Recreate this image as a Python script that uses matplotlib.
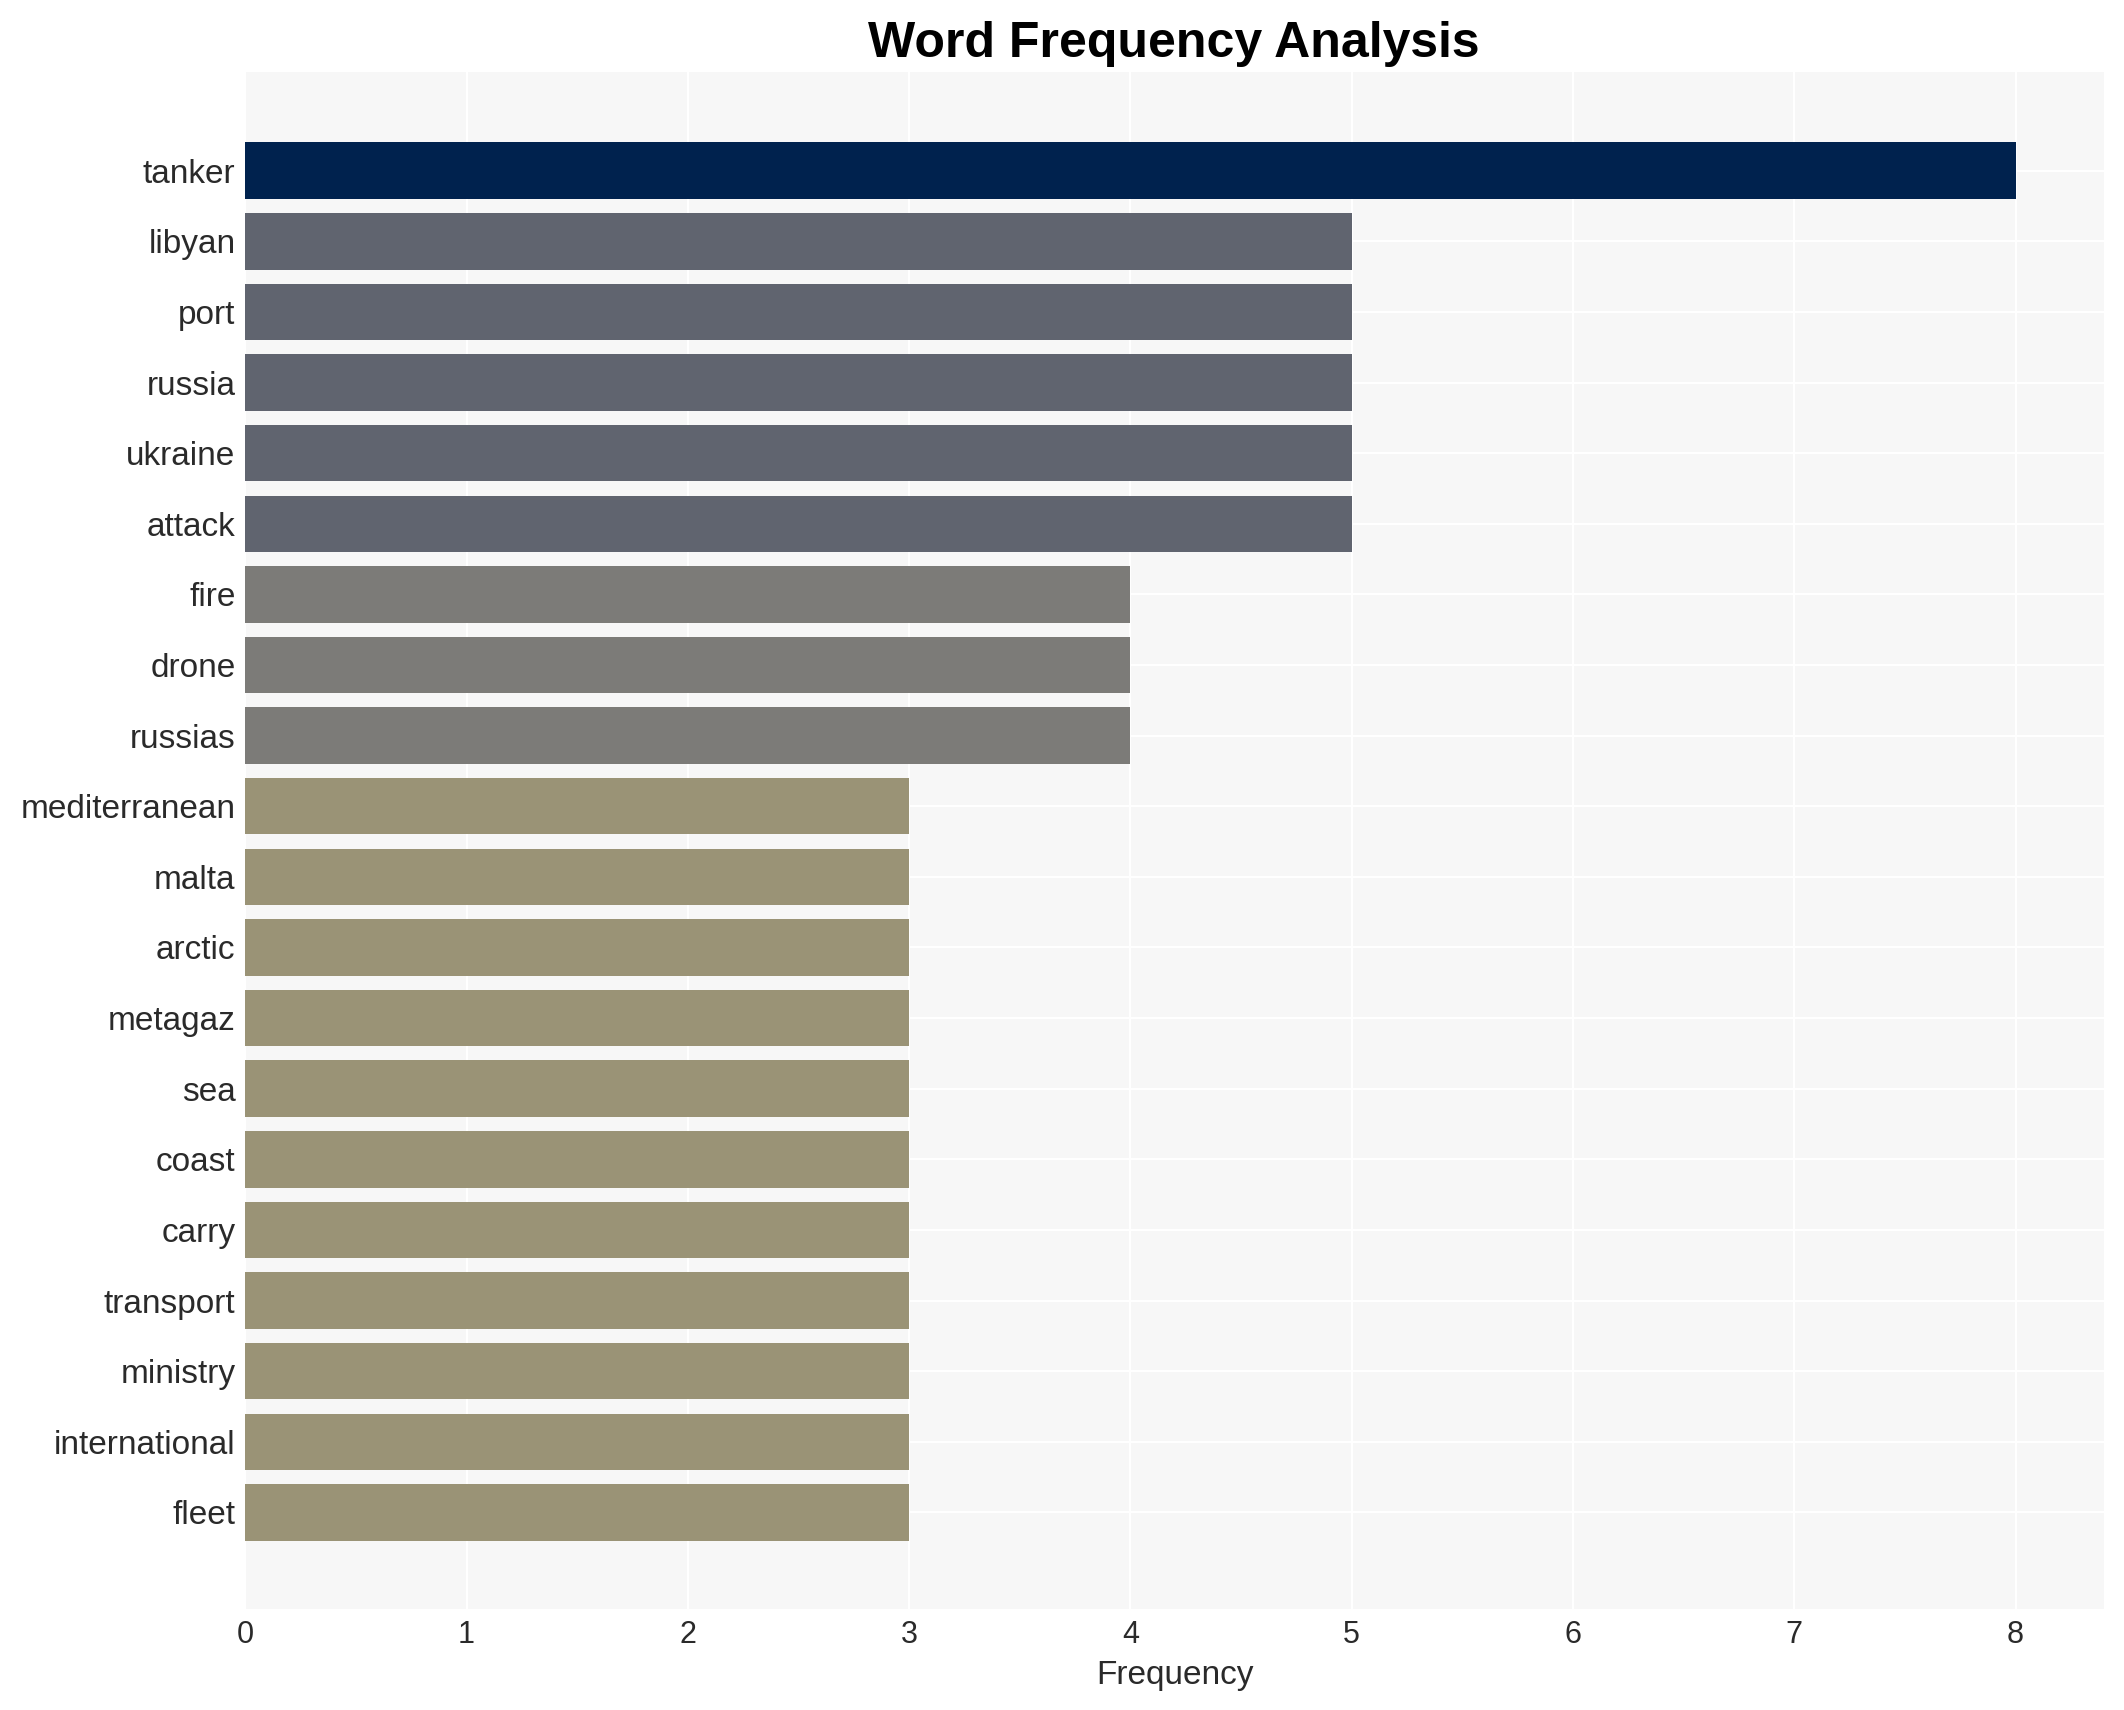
import matplotlib
matplotlib.use('Agg')
import matplotlib.pyplot as plt
import numpy as np

words = ['tanker', 'libyan', 'port', 'russia', 'ukraine', 'attack', 'fire', 'drone',
         'russias', 'mediterranean', 'malta', 'arctic', 'metagaz', 'sea', 'coast',
         'carry', 'transport', 'ministry', 'international', 'fleet']
counts = [8, 5, 5, 5, 5, 5, 4, 4, 4, 3, 3, 3, 3, 3, 3, 3, 3, 3, 3, 3]
x_ticks = [0, 1, 2, 3, 4, 5, 6, 7, 8]

plt.rcParams['font.family'] = ['Liberation Sans', 'DejaVu Sans']

fig = plt.figure(figsize=(21.24, 17.10), dpi=100)
ax = fig.add_axes([0.1155, 0.059, 0.8751, 0.899])
ax.set_facecolor('#f7f7f7')

cmap = plt.get_cmap('cividis_r')
norm = plt.Normalize(vmin=0, vmax=8)
y = np.arange(len(words))
ax.barh(y, counts, height=0.8, color=[cmap(norm(c)) for c in counts], zorder=2)

ax.set_yticks(y)
ax.set_yticklabels(words)
ax.set_ylim(len(words) - 1 + 1.37, -1.4)
ax.set_xlim(0, 8.4)
ax.set_xticks(x_ticks)

for s in ax.spines.values():
    s.set_visible(False)
ax.grid(True, color='white', linewidth=1.5, zorder=0)
ax.set_axisbelow(True)
ax.tick_params(axis='both', length=0, colors='#2a2a2a')
ax.tick_params(axis='y', labelsize=24, pad=7)
ax.tick_params(axis='x', labelsize=22, pad=8)

ax.set_xlabel('Frequency', fontsize=24, color='#2a2a2a', labelpad=7)
fig.suptitle('Word Frequency Analysis', fontsize=36, fontweight='bold',
             x=0.5525, y=0.988, va='top')

plt.savefig('out.png', dpi=100, facecolor='white')
